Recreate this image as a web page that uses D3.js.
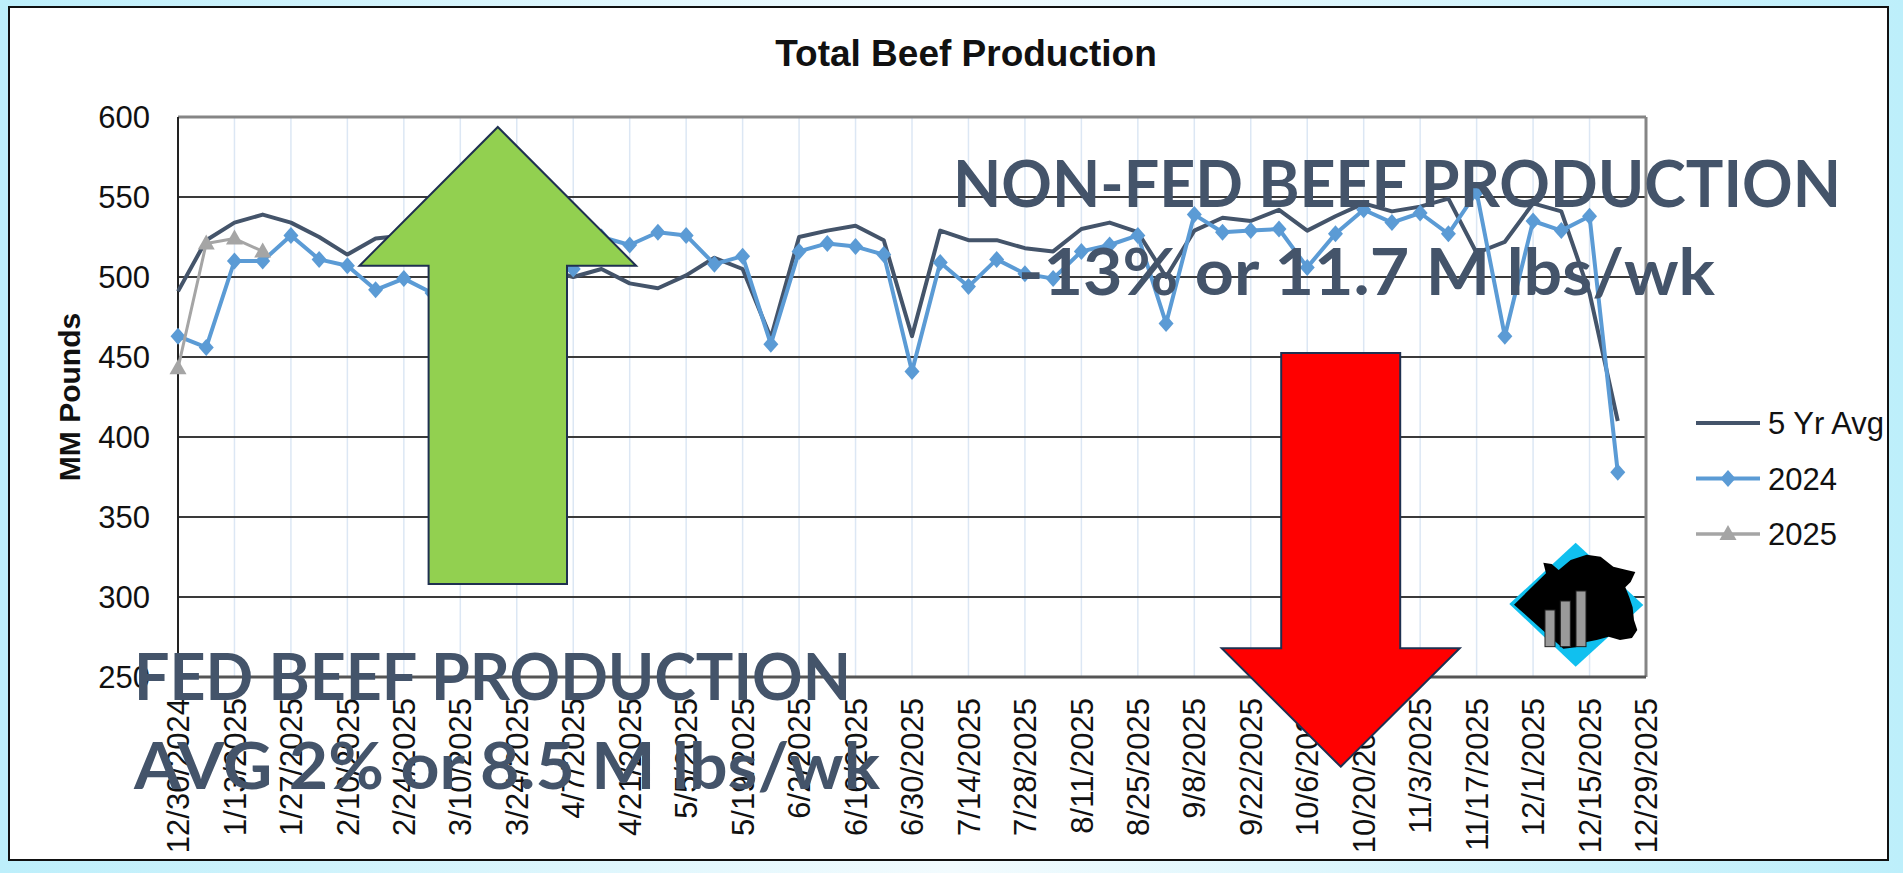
<!DOCTYPE html>
<html>
<head>
<meta charset="utf-8">
<script src="https://cdn.jsdelivr.net/npm/d3@7"></script>
<style>
  html, body { margin: 0; padding: 0; overflow: hidden; }
  body { width: 1903px; height: 873px; }
</style>
</head>
<body>
<script>
// weekly categories (on-tick positions)
const weeks = ['12/30/2024', '1/6/2025', '1/13/2025', '1/20/2025', '1/27/2025', '2/3/2025', '2/10/2025',
  '2/17/2025', '2/24/2025', '3/3/2025', '3/10/2025', '3/17/2025', '3/24/2025', '3/31/2025', '4/7/2025',
  '4/14/2025', '4/21/2025', '4/28/2025', '5/5/2025', '5/12/2025', '5/19/2025', '5/26/2025', '6/2/2025',
  '6/9/2025', '6/16/2025', '6/23/2025', '6/30/2025', '7/7/2025', '7/14/2025', '7/21/2025', '7/28/2025',
  '8/4/2025', '8/11/2025', '8/18/2025', '8/25/2025', '9/1/2025', '9/8/2025', '9/15/2025', '9/22/2025',
  '9/29/2025', '10/6/2025', '10/13/2025', '10/20/2025', '10/27/2025', '11/3/2025', '11/10/2025',
  '11/17/2025', '11/24/2025', '12/1/2025', '12/8/2025', '12/15/2025', '12/22/2025', '12/29/2025'];

// labelled ticks (every other week)
const tickLabels = ['12/30/2024', '1/13/2025', '1/27/2025', '2/10/2025', '2/24/2025', '3/10/2025', '3/24/2025',
  '4/7/2025', '4/21/2025', '5/5/2025', '5/19/2025', '6/2/2025', '6/16/2025', '6/30/2025', '7/14/2025',
  '7/28/2025', '8/11/2025', '8/25/2025', '9/8/2025', '9/22/2025', '10/6/2025', '10/20/2025', '11/3/2025',
  '11/17/2025', '12/1/2025', '12/15/2025', '12/29/2025'];

// MM pounds
const fiveYrAvg = [491, 523, 534, 539, 534, 525, 514, 524, 526, 527, 520, 515, 510, 505, 500, 505, 496, 493,
  501, 512, 505, 462, 525, 529, 532, 523, 463, 529, 523, 523, 518, 516, 530, 534, 528, 500, 529, 537, 535,
  542, 529, 538, 546, 541, 544, 549, 515, 522, 546, 541, 490, 410];
const y2024 = [463, 456, 510, 510, 526, 511, 507, 492, 499, 490, 500, 505, 510, 503, 505, 525, 520, 528, 526,
  508, 513, 458, 516, 521, 519, 514, 441, 509, 494, 511, 502, 499, 516, 520, 526, 471, 539, 528, 529, 530,
  506, 527, 542, 534, 540, 527, 553, 463, 535, 529, 538, 378];
const y2025 = [443, 521, 524, 516];

const yTicks = [250, 300, 350, 400, 450, 500, 550, 600];

const W = 1903, H = 873;
const plot = { left: 178, right: 1646, top: 117, bottom: 677 };
const font = '"Liberation Sans", Arial, sans-serif';
const slate = '#44546a';

const svg = d3.select('body').append('svg')
  .attr('width', W)
  .attr('height', H);

// background gradient + white slide panel
const defs = svg.append('defs');
const grad = defs.append('linearGradient').attr('id', 'bg').attr('x1', 0).attr('x2', 1).attr('y1', 0).attr('y2', 0);
grad.append('stop').attr('offset', '0%').attr('stop-color', '#bdeffb');
grad.append('stop').attr('offset', '50%').attr('stop-color', '#f2fbfe');
grad.append('stop').attr('offset', '100%').attr('stop-color', '#bdeffb');
svg.append('rect').attr('width', W).attr('height', H).attr('fill', 'url(#bg)');
svg.append('rect')
  .attr('x', 9).attr('y', 7).attr('width', 1879).attr('height', 853)
  .attr('fill', '#fff').attr('stroke', '#111').attr('stroke-width', 2);

// scales
const x = d3.scalePoint().domain(weeks).range([plot.left, plot.right]);
const y = d3.scaleLinear().domain([250, 600]).range([plot.bottom, plot.top]);

// vertical grid (light blue) at labelled weeks
svg.append('g').selectAll('line')
  .data(tickLabels.slice(1, -1))
  .enter().append('line')
  .attr('x1', d => x(d)).attr('x2', d => x(d))
  .attr('y1', plot.top).attr('y2', plot.bottom)
  .attr('stroke', '#dce7f4').attr('stroke-width', 1.5);

// horizontal grid
svg.append('g').selectAll('line')
  .data(yTicks.slice(1, -1))
  .enter().append('line')
  .attr('x1', plot.left).attr('x2', plot.right)
  .attr('y1', d => y(d)).attr('y2', d => y(d))
  .attr('stroke', '#3a3a3a').attr('stroke-width', 2);

// plot frame
svg.append('line').attr('x1', plot.left).attr('x2', plot.right).attr('y1', plot.top).attr('y2', plot.top)
  .attr('stroke', '#858585').attr('stroke-width', 3);
svg.append('line').attr('x1', plot.right).attr('x2', plot.right).attr('y1', plot.top).attr('y2', plot.bottom)
  .attr('stroke', '#858585').attr('stroke-width', 3);
svg.append('line').attr('x1', plot.left).attr('x2', plot.right).attr('y1', plot.bottom).attr('y2', plot.bottom)
  .attr('stroke', '#555').attr('stroke-width', 3);
svg.append('line').attr('x1', plot.left).attr('x2', plot.left).attr('y1', plot.top).attr('y2', plot.bottom)
  .attr('stroke', '#222').attr('stroke-width', 2);

// y tick labels
svg.append('g').selectAll('text')
  .data(yTicks)
  .enter().append('text')
  .attr('x', 150).attr('y', d => y(d))
  .attr('dy', '0.36em')
  .attr('text-anchor', 'end')
  .attr('font-family', font).attr('font-size', 31).attr('fill', '#111')
  .text(d => d);

// x tick labels (rotated)
svg.append('g').selectAll('text')
  .data(tickLabels)
  .enter().append('text')
  .attr('transform', d => `translate(${x(d)},698) rotate(-90)`)
  .attr('dy', '0.36em')
  .attr('text-anchor', 'end')
  .attr('font-family', font).attr('font-size', 31).attr('fill', '#111')
  .text(d => d);

// axis title
svg.append('text')
  .attr('transform', `translate(80,${(plot.top + plot.bottom) / 2}) rotate(-90)`)
  .attr('text-anchor', 'middle')
  .attr('font-family', font).attr('font-size', 30).attr('font-weight', 'bold').attr('fill', '#111')
  .text('MM Pounds');

// chart title
svg.append('text')
  .attr('x', 966).attr('y', 66)
  .attr('text-anchor', 'middle')
  .attr('font-family', font).attr('font-size', 37).attr('font-weight', 'bold').attr('fill', '#111')
  .text('Total Beef Production');

// series
const line = d3.line().x((d, i) => x(weeks[i])).y(d => y(d));
const diamond = () => 'M0,-8.5L7.5,0L0,8.5L-7.5,0Z';
const triangle = () => 'M0,-9L8.5,6L-8.5,6Z';

svg.append('path').datum(fiveYrAvg)
  .attr('d', line).attr('fill', 'none').attr('stroke', slate).attr('stroke-width', 4)
  .attr('stroke-linejoin', 'round');

svg.append('path').datum(y2024)
  .attr('d', line).attr('fill', 'none').attr('stroke', '#5b9bd5').attr('stroke-width', 4)
  .attr('stroke-linejoin', 'round');
svg.append('g').selectAll('path')
  .data(y2024)
  .enter().append('path')
  .attr('d', diamond)
  .attr('transform', (d, i) => `translate(${x(weeks[i])},${y(d)})`)
  .attr('fill', '#5b9bd5');

svg.append('path').datum(y2025)
  .attr('d', line).attr('fill', 'none').attr('stroke', '#a5a5a5').attr('stroke-width', 3)
  .attr('stroke-linejoin', 'round');
svg.append('g').selectAll('path')
  .data(y2025)
  .enter().append('path')
  .attr('d', triangle)
  .attr('transform', (d, i) => `translate(${x(weeks[i])},${y(d)})`)
  .attr('fill', '#a5a5a5');

// legend
const legend = [
  { name: '5 Yr Avg', color: slate, mark: null, w: 4 },
  { name: '2024', color: '#5b9bd5', mark: diamond, w: 4 },
  { name: '2025', color: '#a5a5a5', mark: triangle, w: 3.5 }
];
const lg = svg.append('g').selectAll('g')
  .data(legend)
  .enter().append('g')
  .attr('transform', (d, i) => `translate(1696,${423 + i * 55.5})`);
lg.append('line').attr('x1', 0).attr('x2', 64)
  .attr('stroke', d => d.color).attr('stroke-width', d => d.w);
lg.filter(d => d.mark).append('path')
  .attr('d', d => d.mark())
  .attr('transform', 'translate(32,0)')
  .attr('fill', d => d.color);
lg.append('text')
  .attr('x', 72).attr('dy', '0.36em')
  .attr('font-family', font).attr('font-size', 31).attr('fill', '#111')
  .text(d => d.name);

// logo: blue diamond with cow silhouette and bars
const logo = svg.append('g').attr('transform', 'translate(1480,520) scale(0.3333)');
logo.append('path')
  .attr('d', 'M287,68 L490,255 L287,440 L88,252 Z')
  .attr('fill', '#10c0ef');
logo.append('path')
  .attr('d', 'M102,254 L198,160 L190,128 L215,132 L236,150 L272,120 L320,104 L362,110 L400,140 ' +
    'L440,150 L466,156 L452,186 L436,202 L448,232 L458,262 L462,300 L472,330 L456,354 L420,360 ' +
    'L386,350 L350,360 L320,366 L288,382 L250,386 Z')
  .attr('fill', '#000');
const bars = [[195, 270], [241, 243], [288, 213]];
logo.selectAll('rect.bar')
  .data(bars)
  .enter().append('rect')
  .attr('x', d => d[0]).attr('y', d => d[1])
  .attr('width', 30).attr('height', d => 380 - d[1])
  .attr('fill', '#9a9a9a').attr('stroke', '#222').attr('stroke-width', 3);

// arrows
function arrowUp(cx, tipY, baseY, bottomY, headHalf, shaftHalf) {
  return `M${cx},${tipY} L${cx + headHalf},${baseY} L${cx + shaftHalf},${baseY} L${cx + shaftHalf},${bottomY} ` +
    `L${cx - shaftHalf},${bottomY} L${cx - shaftHalf},${baseY} L${cx - headHalf},${baseY} Z`;
}
svg.append('path')
  .attr('d', arrowUp(497.8, 127, 265.7, 584, 138.3, 69.2))
  .attr('fill', '#92d050').attr('stroke', '#1f3050').attr('stroke-width', 2);
svg.append('path')
  .attr('d', arrowUp(1340.7, 766.7, 648.3, 353, 119, 59.5))
  .attr('fill', '#ff0000').attr('stroke', '#1f3050').attr('stroke-width', 2);

// callout texts
const callouts = [
  { t: 'NON-FED BEEF PRODUCTION', x: 953, y: 206.5, len: 888 },
  { t: '-13% or 11.7 M lbs/wk', x: 1018, y: 295, len: 697 },
  { t: 'FED BEEF PRODUCTION', x: 134, y: 700, len: 717 },
  { t: 'AVG 2% or 8.5 M lbs/wk', x: 134, y: 789, len: 746 }
];
svg.append('g').selectAll('text')
  .data(callouts)
  .enter().append('text')
  .attr('x', d => d.x).attr('y', d => d.y)
  .attr('textLength', d => d.len).attr('lengthAdjust', 'spacingAndGlyphs')
  .attr('font-family', 'Lato, "Open Sans", sans-serif').attr('font-weight', 'bold')
  .attr('font-size', 65).attr('fill', slate)
  .text(d => d.t);
</script>
</body>
</html>
